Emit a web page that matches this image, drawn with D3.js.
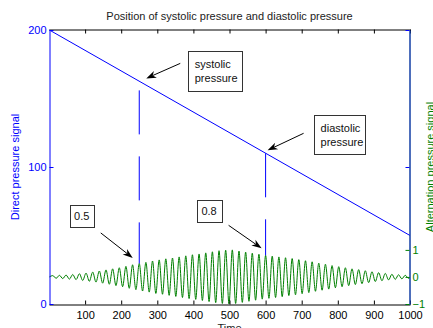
<!DOCTYPE html>
<html>
<head>
<meta charset="utf-8">
<script src="https://cdn.jsdelivr.net/npm/d3@7"></script>
<style>
  body { margin: 0; background: #fff; }
  text { font-family: "Liberation Sans", Arial, sans-serif; }
</style>
</head>
<body>
<div id="chart"></div>
<script>
// values
const timeTicks = [100, 200, 300, 400, 500, 600, 700, 800, 900, 1000];
const directTicks = [0, 100, 200];
const signalTicks = [-1, 0, 1];

const directTimes = [1, 1000];
const directValues = [200, 50];

// alternation signal: turning points (peaks and troughs) of the oscillation
const swingTimes = [
    1, 10.5, 19.7, 28.9, 38.1, 47.3, 56.5, 65.8, 75.0, 84.2, 93.4,
    102.6, 111.8, 121.0, 130.2, 139.4, 148.6, 157.9, 167.1, 176.3, 185.5,
    194.7, 203.9, 213.1, 222.3, 231.5, 240.7, 250.0, 259.2, 268.4, 277.6,
    286.8, 296.0, 305.2, 314.4, 323.6, 332.8, 342.1, 351.3, 360.5, 369.7,
    378.9, 388.1, 397.3, 406.5, 415.7, 424.9, 434.2, 443.4, 452.6, 461.8,
    471.0, 480.2, 489.4, 498.6, 507.8, 517.0, 526.3, 535.5, 544.7, 553.9,
    563.1, 572.3, 581.5, 590.7, 600.0, 609.2, 618.4, 627.6, 636.8, 646.0,
    655.2, 664.4, 673.6, 682.8, 692.0, 701.2, 710.5, 719.7, 728.9, 738.1,
    747.3, 756.5, 765.7, 774.9, 784.1, 793.3, 802.6, 811.8, 821.0, 830.2,
    839.4, 848.6, 857.8, 867.0, 876.2, 885.4, 894.7, 903.9, 913.1, 922.3,
    931.5, 940.7, 949.9, 959.1, 968.3, 977.5, 986.8, 996.0, 1000
];
const swingValues = [
    0, 0.05, -0.05, 0.06, -0.06, 0.07, -0.08, 0.09, -0.10, 0.12, -0.13,
    0.14, -0.16, 0.18, -0.19, 0.22, -0.23, 0.26, -0.27, 0.30, -0.32,
    0.34, -0.36, 0.39, -0.42, 0.45, -0.47, 0.50, -0.52, 0.54, -0.56,
    0.59, -0.61, 0.63, -0.64, 0.67, -0.68, 0.70, -0.72, 0.74, -0.76,
    0.78, -0.80, 0.82, -0.83, 0.85, -0.87, 0.89, -0.91, 0.93, -0.95,
    0.97, -0.98, 0.99, -1.00, 1.00, -0.98, 0.96, -0.94, 0.92, -0.90,
    0.88, -0.86, 0.84, -0.82, 0.80, -0.79, 0.77, -0.76, 0.74, -0.73,
    0.71, -0.69, 0.68, -0.66, 0.64, -0.62, 0.60, -0.58, 0.56, -0.53,
    0.51, -0.49, 0.47, -0.45, 0.42, -0.40, 0.38, -0.36, 0.34, -0.32,
    0.30, -0.28, 0.27, -0.25, 0.23, -0.21, 0.19, -0.17, 0.16, -0.14,
    0.13, -0.11, 0.10, -0.09, 0.08, -0.07, 0.06, -0.05, -0.02
];

const markTimes = [250, 600];
const markDirect = [162.5, 110];
const markSignal = [0.5, 0.8];
const markLabels = ["0.5", "0.8"];
const stageLabels = [["systolic", "pressure"], ["diastolic", "pressure"]];

const blue = "#0000ff", green = "#008000";

const svg = d3.select("#chart")
    .append("svg")
    .attr("width", 433)
    .attr("height", 328);

const x = d3.scaleLinear().domain([0, 1000]).range([49, 410]);
const yL = d3.scaleLinear().domain([0, 200]).range([304, 30]);
const yR = d3.scaleLinear().domain([-1, 9.13]).range([304, 30]);

// signal (green) first, then direct pressure on top
const signal = swingTimes.map((t, i) => [t, swingValues[i]]);
svg.append("path")
    .datum(signal)
    .attr("fill", "none")
    .attr("stroke", green)
    .attr("stroke-width", 1)
    .attr("d", d3.line().x(d => x(d[0])).y(d => yR(d[1])).curve(d3.curveMonotoneX));

const direct = directTimes.map((t, i) => [t, directValues[i]]);
svg.append("path")
    .datum(direct)
    .attr("fill", "none")
    .attr("stroke", blue)
    .attr("stroke-width", 1)
    .attr("d", d3.line().x(d => x(d[0])).y(d => yL(d[1])));

// dashed markers from direct line down to the signal
const dashOffsets = [57, 0];
markTimes.forEach((t, i) => {
    svg.append("line")
        .attr("x1", x(t)).attr("x2", x(t))
        .attr("y1", yL(markDirect[i]))
        .attr("y2", yR(markSignal[i]))
        .attr("stroke", blue)
        .attr("stroke-width", 1)
        .attr("stroke-dasharray", "44,22")
        .attr("stroke-dashoffset", dashOffsets[i]);
});

// axes
function styleAxis(g, color) {
    g.select(".domain").attr("stroke", color);
    g.selectAll(".tick line").attr("stroke", color);
    g.selectAll(".tick text").attr("fill", color).style("font-size", "11px")
        .style("font-family", '"Liberation Sans", Arial, sans-serif');
}

svg.append("g") /* bottom */
    .attr("transform", "translate(0,304.5)")
    .call(d3.axisBottom(x).tickValues(timeTicks).tickFormat(d3.format("d"))
        .tickSizeInner(-4).tickSizeOuter(0).tickPadding(6.5))
    .call(g => styleAxis(g, "#000"));

svg.append("g") /* top */
    .attr("transform", "translate(0,29.5)")
    .call(d3.axisTop(x).tickValues(timeTicks).tickSizeInner(-4).tickSizeOuter(0).tickFormat(""))
    .call(g => styleAxis(g, "#000"));

svg.append("g") /* left, direct pressure */
    .attr("transform", "translate(49.5,0)")
    .call(d3.axisLeft(yL).tickValues(directTicks).tickSizeInner(-4).tickSizeOuter(0).tickPadding(3))
    .call(g => styleAxis(g, blue));

svg.append("g") /* mirrored blue ticks on right */
    .attr("transform", "translate(409.5,0)")
    .call(d3.axisRight(yL).tickValues(directTicks).tickSizeInner(-4).tickSizeOuter(0).tickFormat(""))
    .call(g => styleAxis(g, blue));

svg.append("g") /* right, alternation signal */
    .attr("transform", "translate(409.5,0)")
    .call(d3.axisRight(yR).tickValues(signalTicks).tickSizeInner(-4).tickSizeOuter(0).tickPadding(3))
    .call(g => styleAxis(g, green))
    .call(g => g.select(".domain").attr("stroke", "#1d5f78"));

// titles and labels
svg.append("text")
    .attr("x", (x.range()[0] + x.range()[1]) / 2)
    .attr("y", 20)
    .attr("text-anchor", "middle")
    .attr("fill", "#222")
    .style("font-size", "11px")
    .text("Position of systolic pressure and diastolic pressure");

svg.append("text")
    .attr("x", (x.range()[0] + x.range()[1]) / 2)
    .attr("y", 332)
    .attr("text-anchor", "middle")
    .attr("fill", "#222")
    .style("font-size", "11px")
    .text("Time");

svg.append("text")
    .attr("transform", "rotate(-90)")
    .attr("x", -167)
    .attr("y", 19)
    .attr("text-anchor", "middle")
    .attr("fill", blue)
    .style("font-size", "11px")
    .text("Direct pressure signal");

svg.append("text")
    .attr("transform", "rotate(-90)")
    .attr("x", -167)
    .attr("y", 434)
    .attr("text-anchor", "middle")
    .attr("fill", green)
    .style("font-size", "11px")
    .text("Alternation pressure signal");

// annotations: arrows and text boxes
function arrow(x1, y1, x2, y2) {
    const a = Math.atan2(y2 - y1, x2 - x1);
    const len = 10, half = 3.6, notch = 7;
    const px = (d, s) => [x2 - d * Math.cos(a) - s * Math.sin(a), y2 - d * Math.sin(a) + s * Math.cos(a)];
    svg.append("line")
        .attr("x1", x1).attr("y1", y1)
        .attr("x2", px(notch, 0)[0]).attr("y2", px(notch, 0)[1])
        .attr("stroke", "#000").attr("stroke-width", 1);
    svg.append("path")
        .attr("d", d3.line()([[x2, y2], px(len, half), px(notch, 0), px(len, -half)]) + "Z")
        .attr("fill", "#000");
}

function textBox(bx, by, w, h, lines, cx) {
    svg.append("rect")
        .attr("x", Math.round(bx) + 0.5).attr("y", Math.round(by) + 0.5)
        .attr("width", w).attr("height", h)
        .attr("fill", "#fff").attr("stroke", "#333").attr("stroke-width", 1);
    lines.forEach((s, j) => {
        svg.append("text")
            .attr("x", cx ? bx + w / 2 : bx + 7)
            .attr("y", by + h / 2 + 4 + (j - (lines.length - 1) / 2) * 13.5)
            .attr("text-anchor", cx ? "middle" : "start")
            .attr("fill", "#111")
            .style("font-size", "11px")
            .text(s);
    });
}

const stageArrows = [
    {tip: [7, -3], tail: [41, -18], box: [48.5, -30.5, 54, 40]},
    {tip: [2, -3], tail: [38, -20], box: [48, -38, 51, 39]}
];
const valueArrows = [
    {tip: [-6.5, -5.5], tail: [-38.5, -30.5], box: [-69.5, -58.5, 24, 22]},
    {tip: [-4, -7], tail: [-37, -30], box: [-69, -55, 25, 22]}
];

markTimes.forEach((t, i) => {
    const ax = x(t), ay = yL(markDirect[i]);
    const s = stageArrows[i];
    arrow(ax + s.tail[0], ay + s.tail[1], ax + s.tip[0], ay + s.tip[1]);
    textBox(ax + s.box[0], ay + s.box[1], s.box[2], s.box[3], stageLabels[i], false);

    const vx = x(t), vy = yR(markSignal[i]);
    const v = valueArrows[i];
    arrow(vx + v.tail[0], vy + v.tail[1], vx + v.tip[0], vy + v.tip[1]);
    textBox(vx + v.box[0], vy + v.box[1], v.box[2], v.box[3], [markLabels[i]], true);
});
</script>
</body>
</html>
